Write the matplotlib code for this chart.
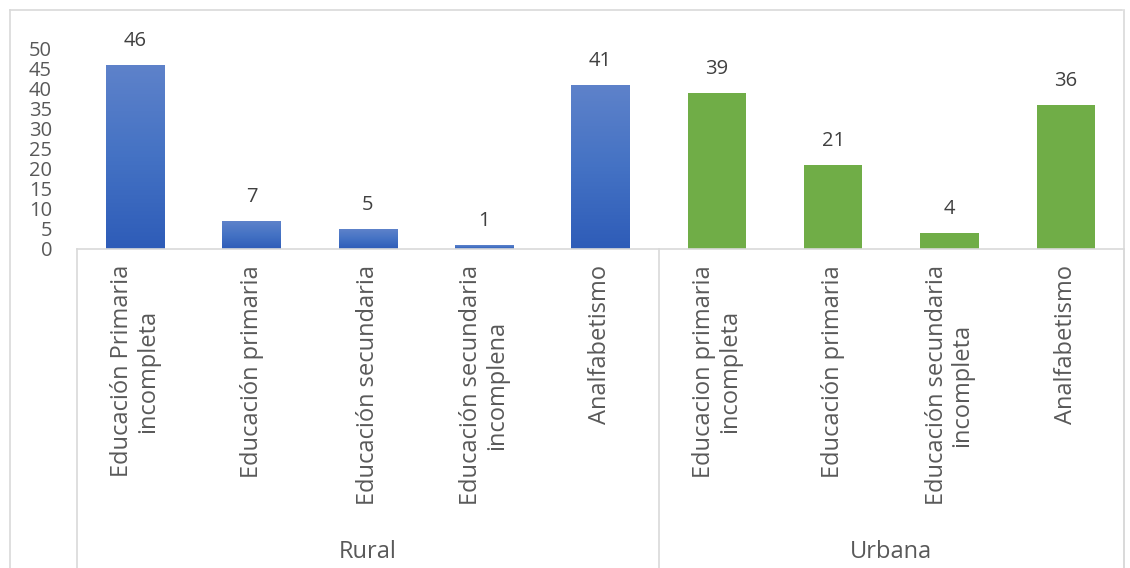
import numpy as np
import matplotlib
matplotlib.use('Agg')
import matplotlib.pyplot as plt
from matplotlib.colors import LinearSegmentedColormap
from matplotlib.transforms import blended_transform_factory

plt.rcParams['font.family'] = ['Open Sans', 'DejaVu Sans']

rural_labels = ['Educación Primaria\nincompleta', 'Educación primaria',
                'Educación secundaria', 'Educación secundaria\nincomplena',
                'Analfabetismo']
rural_values = [46, 7, 5, 1, 41]
urbana_labels = ['Educacion primaria\nincompleta', 'Educación primaria',
                 'Educación secundaria\nincompleta', 'Analfabetismo']
urbana_values = [39, 21, 4, 36]
groups = ['Rural', 'Urbana']

W, H = 1130, 568
fig = plt.figure(figsize=(W / 100, H / 100), dpi=100)
ax = fig.add_axes([77 / W, 1 - 249 / H, (1124 - 77) / W, 200 / H])

labels = rural_labels + urbana_labels
values = rural_values + urbana_values
xs = np.arange(len(values))
n_rural = len(rural_values)

blue_cmap = LinearSegmentedColormap.from_list('b', ['#2E5CB8', '#4472C4', '#5E82CA'])
bars = ax.bar(xs, values, width=0.5, color='none', edgecolor='none', zorder=2)
grad = np.linspace(0, 1, 256).reshape(-1, 1)
for i, b in enumerate(bars):
    x0, y0 = b.get_x(), b.get_y()
    w, h = b.get_width(), b.get_height()
    if i < n_rural:
        im = ax.imshow(grad, cmap=blue_cmap, aspect='auto', origin='lower',
                       extent=[x0, x0 + w, y0, y0 + h], zorder=2)
        im.set_clip_path(b)
    else:
        b.set_facecolor('#70AD47')
    ax.text(xs[i], values[i] + 3.6, str(values[i]), ha='center', va='bottom',
            fontsize=14.5, color='#404040')

ax.set_xlim(-0.5, len(values) - 0.5)
ax.set_ylim(0, 50)
ax.set_yticks(range(0, 51, 5))
ax.tick_params(axis='y', length=0, pad=18, labelsize=14.5, labelcolor='#595959')
ax.set_xticks([])
for s in ax.spines.values():
    s.set_visible(False)

# category box of the two-level axis
tr = blended_transform_factory(ax.transData, ax.transAxes)
lc = '#D9D9D9'
ax.plot([-0.5, len(values) - 0.5], [0, 0], color=lc, lw=1.2, transform=tr, clip_on=False)
for xv in [-0.5, n_rural - 0.5, len(values) - 0.5]:
    ax.plot([xv, xv], [0, -1.7], color=lc, lw=1.2, transform=tr, clip_on=False)

for i, lab in enumerate(labels):
    ax.text(xs[i], -0.08, lab, rotation=90, ha='center', va='top',
            multialignment='center', fontsize=17, color='#595959',
            transform=tr, linespacing=1.1)

centers = [(n_rural - 1) / 2, n_rural + (len(urbana_values) - 1) / 2]
for c, g in zip(centers, groups):
    ax.text(c, -1.515, g, ha='center', va='center', fontsize=17,
            color='#595959', transform=tr)

# outer chart border
fig.add_artist(plt.Line2D([10 / W, 10 / W], [0, 1 - 10 / H], color=lc, lw=1.2))
fig.add_artist(plt.Line2D([10 / W, 1122 / W], [1 - 10 / H, 1 - 10 / H], color=lc, lw=1.2))
fig.add_artist(plt.Line2D([1124 / W, 1124 / W], [0, 1 - 10 / H], color=lc, lw=1.2))

fig.savefig('out.png', dpi=100)
